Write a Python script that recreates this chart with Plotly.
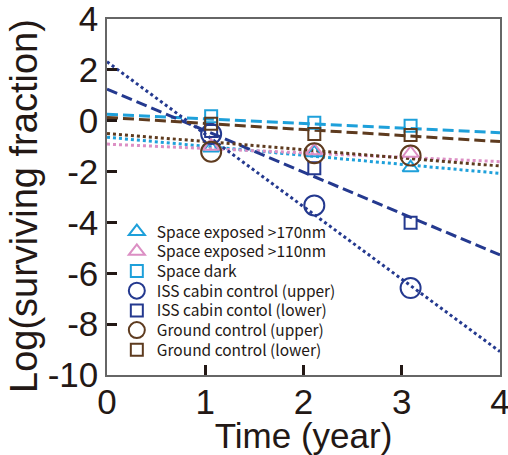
import plotly.graph_objects as go

# ---- data ----
years = [1.06, 2.11, 3.09]
series_names = [
    "Space exposed >170nm",
    "Space exposed >110nm",
    "Space dark",
    "ISS cabin control (upper)",
    "ISS cabin contol (lower)",
    "Ground control (upper)",
    "Ground control (lower)",
]
exposed170 = [-1.07, -1.26, -1.85]
exposed110 = [-1.0, -1.18, -1.28]
space_dark = [0.18, -0.08, -0.2]
iss_upper = [-0.52, -3.33, -6.58]
iss_lower = [-0.4, -1.87, -4.01]
ground_upper = [-1.22, -1.28, -1.37]
ground_lower = [-0.12, -0.52, -0.56]

# fitted regression lines: value at year 0 and at year 4
fit_x = [0, 4]
fit_exposed170 = [-0.65, -2.07]
fit_exposed110 = [-0.92, -1.61]
fit_space_dark = [0.25, -0.47]
fit_iss_upper = [2.32, -9.08]
fit_iss_lower = [1.24, -5.28]
fit_ground_upper = [-0.5, -1.78]
fit_ground_lower = [0.13, -0.82]

x_ticks = [0, 1, 2, 3, 4]
y_ticks = [4, 2, 0, -2, -4, -6, -8, -10]
x_title = "Time (year)"
y_title = "Log(surviving fraction)"

CYAN = "#1ea0da"
PINK = "#dc8fc4"
NAVY = "#24398f"
BROWN = "#5e3b1f"
TEXT = "#231815"

DASH = "11px,5px"
styles = [
    (exposed170, fit_exposed170, CYAN, "triangle-up-open", 14, "dot"),
    (exposed110, fit_exposed110, PINK, "triangle-up-open", 14, "dot"),
    (space_dark, fit_space_dark, CYAN, "square-open", 12, DASH),
    (iss_upper, fit_iss_upper, NAVY, "circle-open", 20, "dot"),
    (iss_lower, fit_iss_lower, NAVY, "square-open", 12, DASH),
    (ground_upper, fit_ground_upper, BROWN, "circle-open", 20, "dot"),
    (ground_lower, fit_ground_lower, BROWN, "square-open", 12, DASH),
]

fig = go.Figure()

# fit lines first (beneath markers)
for (vals, fit, col, sym, sz, dash), name in zip(styles, series_names):
    fig.add_trace(go.Scatter(
        x=fit_x, y=fit, mode="lines",
        line=dict(color=col, width=3, dash=dash),
        showlegend=False, hoverinfo="skip",
    ))

# plot area in pixels (for legend placement)
PLOT_LEFT, PLOT_RIGHT = 107, 500
PLOT_TOP, PLOT_BOTTOM = 19, 375
legend_layouts = {}
for i, ((vals, fit, col, sym, sz, dash), name) in enumerate(zip(styles, series_names)):
    key = "legend" if i == 0 else f"legend{i + 1}"
    fig.add_trace(go.Scatter(
        x=years, y=vals, mode="markers", name=name, legend=key,
        marker=dict(symbol=sym, size=sz, color=col, line=dict(color=col, width=2)),
    ))
    ypx = 232 + 19.7 * i
    legend_layouts[key] = dict(
        x=0.025, y=(PLOT_BOTTOM - ypx) / (PLOT_BOTTOM - PLOT_TOP),
        xanchor="left", yanchor="middle",
        bgcolor="rgba(0,0,0,0)", borderwidth=0,
        font=dict(size=15.5, family="Noto Sans CJK JP, Noto Sans, sans-serif", color=TEXT),
        itemsizing="trace",
    )

fig.update_layout(
    width=508, height=455,
    margin=dict(l=PLOT_LEFT, r=508 - PLOT_RIGHT, t=PLOT_TOP, b=455 - PLOT_BOTTOM),
    paper_bgcolor="white", plot_bgcolor="white",
    font=dict(family="Liberation Sans, Arial, sans-serif", color=TEXT),
    showlegend=True,
    **legend_layouts,
    xaxis=dict(
        range=[0, 4], tickvals=x_ticks, ticktext=[str(v) for v in x_ticks],
        ticks="inside", ticklen=10, tickwidth=2.5, tickcolor=TEXT,
        showline=True, linecolor="#666666", linewidth=1.5, mirror=True,
        showgrid=False, zeroline=False, automargin=False,
        ticklabeloverflow="allow", ticklabelstandoff=-5,
        tickfont=dict(size=35),
        title=dict(text=x_title, font=dict(size=35), standoff=4),
    ),
    yaxis=dict(
        range=[-10, 4], tickvals=y_ticks, ticktext=[str(v) for v in y_ticks],
        ticks="inside", ticklen=10, tickwidth=2.5, tickcolor=TEXT,
        showline=True, linecolor="#666666", linewidth=1.5, mirror=True,
        showgrid=False, zeroline=False, automargin=False,
        ticklabeloverflow="allow",
        tickfont=dict(size=35),
    ),
    annotations=[dict(
        text=y_title, textangle=-90, showarrow=False,
        xref="paper", yref="paper",
        x=(24 - PLOT_LEFT) / (PLOT_RIGHT - PLOT_LEFT),
        y=(PLOT_BOTTOM - 206) / (PLOT_BOTTOM - PLOT_TOP),
        xanchor="center", yanchor="middle",
        font=dict(size=38, family="Liberation Sans, Arial, sans-serif", color=TEXT),
    )],
)

fig.write_html(
    "out.html",
    config={"displayModeBar": False},
    post_script="document.body.style.margin='0';document.body.style.padding='0';",
)
